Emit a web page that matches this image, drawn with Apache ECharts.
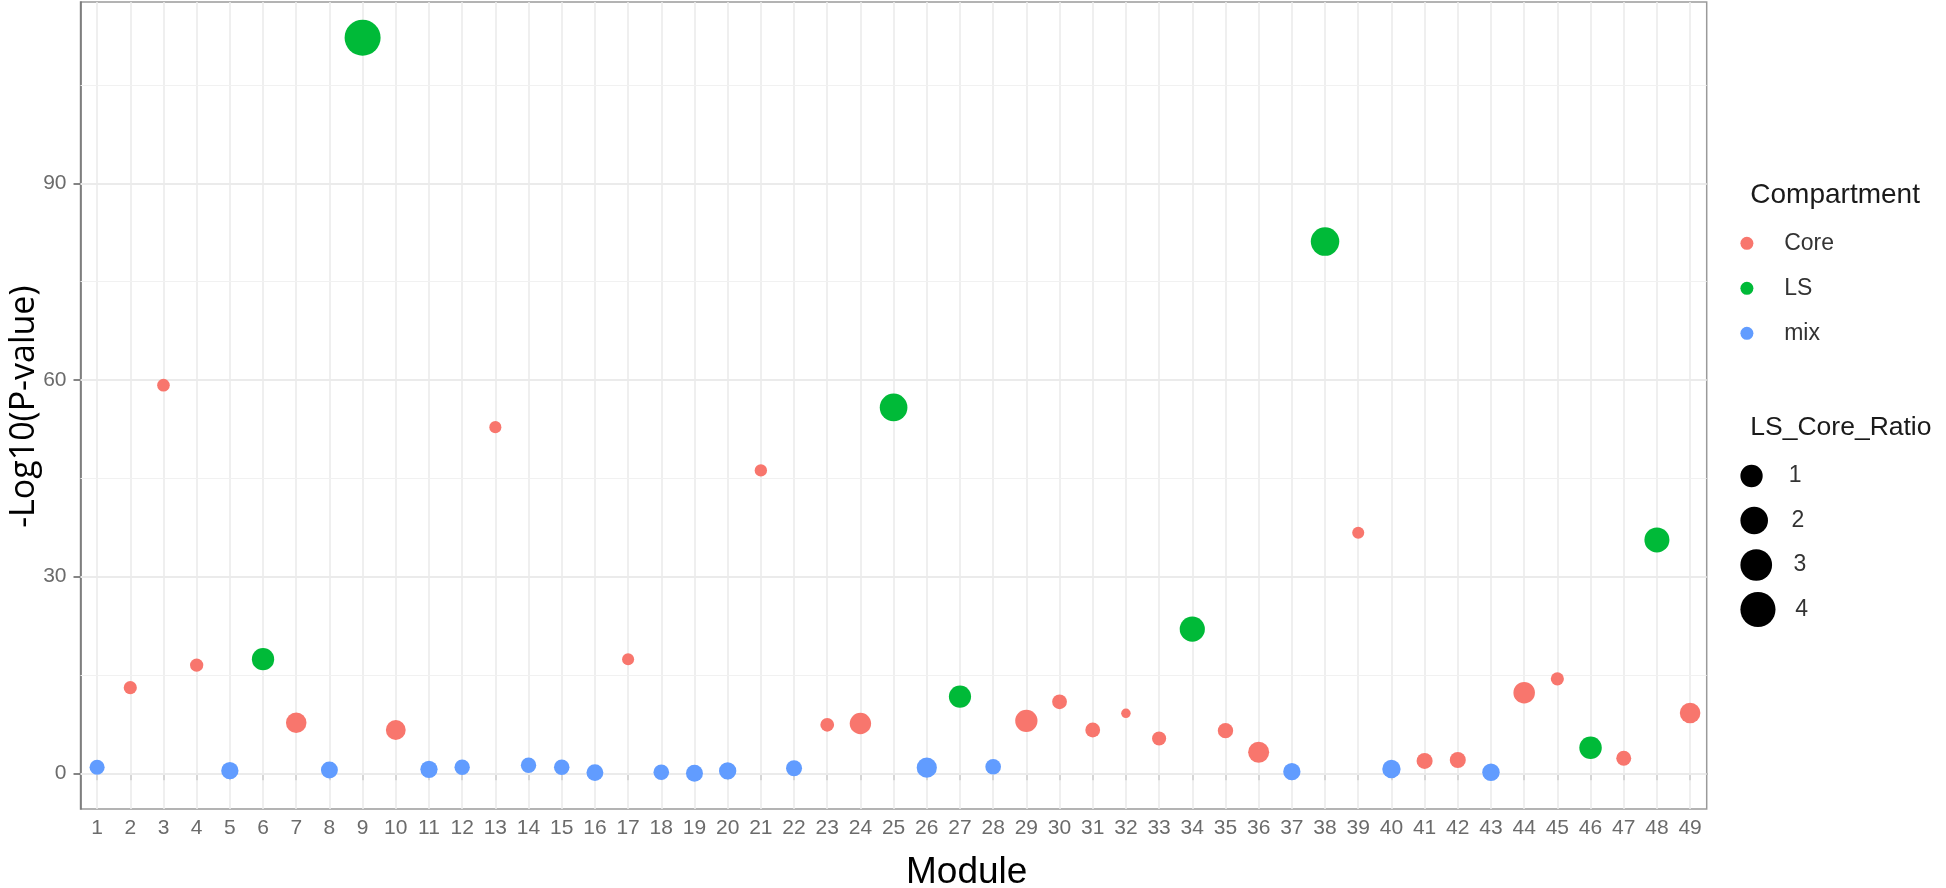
<!DOCTYPE html>
<html>
<head>
<meta charset="utf-8">
<title>Module enrichment</title>
<script src="https://cdn.jsdelivr.net/npm/echarts@6.0.0/dist/echarts.min.js"></script>
<style>
  html, body { margin: 0; padding: 0; background: #fff; }
  #chart { width: 1946px; height: 888px; }
</style>
</head>
<body>
<div id="chart"></div>
<script>
  const modules = ['1', '2', '3', '4', '5', '6', '7', '8', '9', '10',
    '11', '12', '13', '14', '15', '16', '17', '18', '19', '20',
    '21', '22', '23', '24', '25', '26', '27', '28', '29', '30',
    '31', '32', '33', '34', '35', '36', '37', '38', '39', '40',
    '41', '42', '43', '44', '45', '46', '47', '48', '49']
  const compartment = ['mix', 'Core', 'Core', 'Core', 'mix', 'LS', 'Core', 'mix', 'LS', 'Core',
    'mix', 'mix', 'Core', 'mix', 'mix', 'mix', 'Core', 'mix', 'mix', 'mix',
    'Core', 'mix', 'Core', 'Core', 'LS', 'mix', 'LS', 'mix', 'Core', 'Core',
    'Core', 'Core', 'Core', 'LS', 'Core', 'Core', 'mix', 'LS', 'Core', 'mix',
    'Core', 'Core', 'mix', 'Core', 'Core', 'LS', 'Core', 'LS', 'Core']
  const negLogP = [0.92, 13.06, 59.2, 16.5, 0.4, 17.4, 7.7, 0.5, 112.2, 6.6,
    0.6, 0.92, 52.8, 1.22, 0.92, 0.1, 17.4, 0.15, 0.0, 0.35,
    46.2, 0.76, 7.4, 7.6, 55.8, 0.85, 11.7, 1.0, 8.0, 10.9,
    6.6, 9.15, 5.3, 22.0, 6.5, 3.2, 0.25, 81.1, 36.7, 0.66,
    1.88, 2.03, 0.15, 12.3, 14.4, 3.9, 2.3, 35.6, 9.2]
  const lsCoreRatio = [0.19, 0.08, 0.06, 0.09, 0.37, 1.0, 0.74, 0.34, 4.29, 0.65,
    0.37, 0.21, 0.04, 0.21, 0.22, 0.33, 0.04, 0.23, 0.34, 0.37,
    0.05, 0.26, 0.11, 0.86, 2.02, 0.70, 0.98, 0.23, 1.0, 0.17,
    0.17, 0.0, 0.13, 1.50, 0.21, 0.81, 0.37, 2.20, 0.04, 0.48,
    0.26, 0.26, 0.39, 0.88, 0.08, 1.03, 0.18, 1.47, 0.75]
  const compartments = ['Core', 'LS', 'mix']
  const ratioBreaks = ['1', '2', '3', '4']
  const yTicks = [0, 30, 60, 90]
  const yMinorGrid = [15, 45, 75, 105]

  const COLORS = { Core: '#F8766D', LS: '#00BA38', mix: '#619CFF' }
  const FONT = '"Liberation Sans", Arial, sans-serif'

  // area-like size scale, fitted to the LS_Core_Ratio key
  function pointSize(ratio) {
    return 9.5 + 12.8 * Math.sqrt(ratio)
  }

  function buildOption() {
    let pointSeries = compartments.map((name) => {
      let data = []
      modules.forEach((m, i) => {
        if (compartment[i] === name) data.push([m, negLogP[i], lsCoreRatio[i]])
      })
      return {
        name: name,
        type: 'scatter',
        z: 10,
        data: data,
        symbol: 'circle',
        symbolSize: (val) => pointSize(val[2]),
        itemStyle: { color: COLORS[name], opacity: 1 }
      }
    })

    // panel grid lines, drawn on the axes' own scales
    let gridSeries = {
      name: 'panel-grid',
      type: 'scatter',
      z: 1,
      data: [],
      silent: true,
      markLine: {
        z: 1,
        silent: true,
        symbol: ['none', 'none'],
        label: { show: false },
        emphasis: { disabled: true },
        animation: false,
        data: []
          .concat(modules.map((m) => ({ xAxis: m, lineStyle: { color: '#ebebeb', width: 1.6, type: 'solid' } })))
          .concat(yMinorGrid.map((v) => ({ yAxis: v, lineStyle: { color: '#f1f1f1', width: 1, type: 'solid' } })))
          .concat(yTicks.map((v) => ({ yAxis: v, lineStyle: { color: '#ebebeb', width: 1.8, type: 'solid' } })))
      }
    }

    let sizeSeries = ratioBreaks.map((b) => ({
      name: b,
      type: 'scatter',
      data: [],
      itemStyle: { color: '#000', opacity: 1 }
    }))

    let legendText = { fontFamily: FONT, fontSize: 23, color: '#333', lineHeight: 26 }
    let sizeLegends = ratioBreaks.map((b, i) => {
      let d = pointSize(+b)
      return {
        data: [b],
        orient: 'vertical',
        left: 1740.4,
        top: 476 + i * 44.5 - Math.max(d, 26) / 2,
        padding: 0,
        icon: 'circle',
        itemWidth: 64.6,
        itemHeight: d,
        selectedMode: false,
        itemStyle: { color: '#000', opacity: 1 },
        textStyle: legendText
      }
    })

    return {
      animation: false,
      backgroundColor: '#fff',
      grid: {
        left: 80.5,
        top: 2,
        right: 239.3,
        bottom: 79,
        show: true,
        borderColor: '#9a9a9a',
        borderWidth: 1.5,
        backgroundColor: '#fff'
      },
      xAxis: {
        type: 'category',
        data: modules,
        boundaryGap: true,
        axisLine: { show: true, lineStyle: { color: '#777', width: 1.6 } },
        axisTick: { show: true, alignWithLabel: true, interval: 0, length: 7, lineStyle: { color: '#666', width: 1.6 } },
        axisLabel: { interval: 0, margin: 9, fontFamily: FONT, fontSize: 21, color: '#6b6b6b' },
        splitLine: { show: false }
      },
      yAxis: {
        type: 'value',
        min: -5.45,
        max: 117.65,
        axisLine: { show: true, lineStyle: { color: '#777', width: 1.6 } },
        axisTick: { show: true, length: 7, customValues: yTicks, lineStyle: { color: '#666', width: 1.6 } },
        axisLabel: { margin: 14, customValues: yTicks, fontFamily: FONT, fontSize: 21, color: '#6b6b6b' },
        splitLine: { show: false }
      },
      legend: [{
        data: compartments,
        orient: 'vertical',
        left: 1740.4,
        top: 230.3,
        padding: 0,
        icon: 'circle',
        itemWidth: 64.6,
        itemHeight: 13,
        itemGap: 19,
        selectedMode: false,
        textStyle: legendText
      }].concat(sizeLegends),
      graphic: [
        {
          type: 'text',
          x: 966.7,
          y: 873,
          style: { text: 'Module', font: '37px "Liberation Sans", Arial, sans-serif', fill: '#000',
            textAlign: 'center', textVerticalAlign: 'middle', align: 'center', verticalAlign: 'middle' }
        },
        {
          type: 'text',
          x: 24.5,
          y: 406.7,
          rotation: Math.PI / 2,
          style: { text: '-Log10(P-value)', font: '34px "Open Sans", "Liberation Sans", sans-serif', fill: '#000',
            textAlign: 'center', textVerticalAlign: 'middle', align: 'center', verticalAlign: 'middle' }
        },
        {
          type: 'text',
          x: 1750.3,
          y: 195,
          style: { text: 'Compartment', font: '28px "Liberation Sans", Arial, sans-serif', fill: '#1a1a1a',
            textAlign: 'left', textVerticalAlign: 'middle', align: 'left', verticalAlign: 'middle' }
        },
        {
          type: 'text',
          x: 1750.3,
          y: 428,
          style: { text: 'LS_Core_Ratio', font: '26.5px "Liberation Sans", Arial, sans-serif', fill: '#1a1a1a',
            textAlign: 'left', textVerticalAlign: 'middle', align: 'left', verticalAlign: 'middle' }
        }
      ],
      series: [gridSeries].concat(pointSeries).concat(sizeSeries)
    }
  }

  let myChart = echarts.init(document.getElementById('chart'))
  myChart.setOption(buildOption())
</script>
</body>
</html>
